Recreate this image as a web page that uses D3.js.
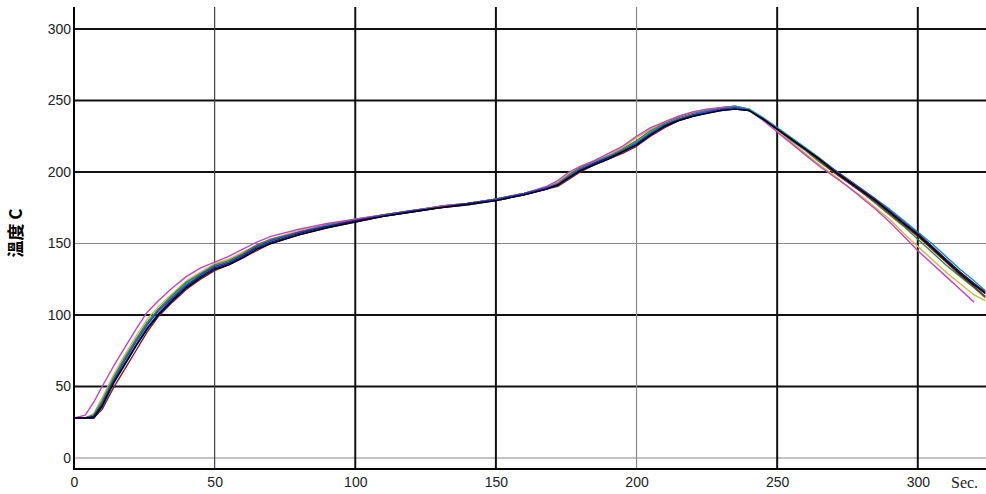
<!DOCTYPE html>
<html>
<head>
<meta charset="utf-8">
<script src="https://cdn.jsdelivr.net/npm/d3@7"></script>
<style>
html,body{margin:0;padding:0;background:#fff;}
svg{display:block;}
</style>
</head>
<body>
<svg id="chart" width="986" height="494"></svg>
<script>
// ---- data ----
const times = [0,4,7,10,14,18,22,26,30,35,40,45,50,55,60,65,70,80,90,100,110,120,130,140,150,160,168,172,176,180,185,190,195,200,205,210,215,220,225,230,235,240,245,250,255,260,265,270,275,280,285,290,295,300,305,310,315,320,324];

const seriesBlack   = [28,28,28,36,52,65,78,90,100,110,119,126,132,135,140,146,150,156,161,165,169,172,175,177,180,184,188,191,196,201,205,209,214,219,226,232,236,239,241,243,244,243,237,230,223,216,209,201,194,187,180,172,164,156,147,138,129,121,115];
const seriesDarkRed = [28,28,28,34,49,62,75,88,99,109,118,125,131,135,140,145,150,156,161,165,169,172,175,177,180,184,188,190,195,200,205,209,213,218,225,231,236,239,242,244,245,243,237,230,223,216,208,200,193,186,179,171,163,155,146,137,128,120,113];
const seriesNavy    = [28,28,29,37,53,66,79,91,101,111,120,127,133,136,141,147,151,157,162,166,169,172,175,178,180,184,188,191,196,201,206,210,214,219,226,232,236,239,241,243,244,243,237,230,223,216,209,201,194,187,180,172,164,157,148,139,130,122,116];
const seriesBlue    = [28,28,29,38,54,68,81,93,103,112,121,128,134,137,142,148,152,158,162,166,170,173,175,178,181,185,189,191,197,202,206,210,215,220,227,233,237,240,242,244,245,243,237,230,223,216,209,202,195,188,181,173,165,157,148,139,130,122,115];
const seriesCyan    = [28,28,30,39,55,69,82,94,104,113,122,129,134,137,142,148,152,158,163,166,170,173,176,178,181,185,189,192,197,202,207,211,215,221,228,233,237,240,243,245,246,244,238,231,224,217,210,202,195,188,181,174,166,158,150,141,132,124,117];
const seriesGreen   = [28,28,30,40,56,70,83,95,104,114,123,129,135,138,143,149,153,158,163,167,170,173,176,178,181,185,189,192,198,203,207,211,216,222,229,234,238,241,243,245,246,244,237,230,222,215,207,200,193,186,178,170,162,153,144,135,127,119,112];
const seriesYellow  = [28,28,31,42,58,72,85,97,106,115,124,130,136,139,144,149,153,159,163,167,170,173,176,178,181,185,189,193,199,204,208,212,217,224,230,235,239,242,244,245,246,244,237,229,221,213,205,198,190,183,175,167,157,148,139,130,122,114,110];
const seriesMagenta = [28,30,39,50,64,77,90,102,110,119,127,133,137,141,146,151,155,160,164,167,170,173,176,178,181,185,190,194,200,204,208,213,218,225,231,235,239,242,244,245,245,243,236,228,220,212,204,197,190,182,174,165,155,145,136,127,118,109,null];

const seriesList = [seriesYellow, seriesGreen, seriesDarkRed, seriesCyan, seriesMagenta, seriesBlue, seriesNavy, seriesBlack];
const seriesColors = ["#c8c030","#2f8a46","#8a1a1a","#1c8fb0","#d23cc6","#2a3ed0","#1c1c7a","#000000"];

const xTicks = [0,50,100,150,200,250,300];
const yTicks = [0,50,100,150,200,250,300];
const xHeavy = [100,150,250,300];
const yHeavy = [50,100,200,250,300];
const xUnit = "Sec.";
const yLabel = "溫度 C";

// ---- layout ----
const svg = d3.select("#chart");
const pL = 74, pT = 7, pR = 986, pB = 469;
const x = d3.scaleLinear().domain([0,300]).range([74, 917.8]);
const y = d3.scaleLinear().domain([0,300]).range([458, 29]);

svg.append("defs").append("clipPath").attr("id","clip")
  .append("rect").attr("x",pL).attr("y",pT).attr("width",pR-pL).attr("height",pB-pT);

// grid
const grid = svg.append("g");
yTicks.forEach(v => {
  const heavy = yHeavy.includes(v);
  grid.append("line").attr("x1",pL).attr("x2",pR).attr("y1",y(v)).attr("y2",y(v))
    .attr("stroke", heavy ? "#111" : "#8a8a8a").attr("stroke-width", heavy ? 2 : 1.2);
});
xTicks.filter(v => v>0).forEach(v => {
  const heavy = xHeavy.includes(v);
  grid.append("line").attr("x1",x(v)).attr("x2",x(v)).attr("y1",pT).attr("y2",pB)
    .attr("stroke", heavy ? "#111" : (v===50 ? "#444" : "#8a8a8a")).attr("stroke-width", heavy ? 2 : 1.2);
});

// axes using d3 axis generators for labels
const xAxis = d3.axisBottom(x).tickValues(xTicks).tickSize(0).tickPadding(0).tickFormat(d3.format("d"));
const gx = svg.append("g").attr("transform",`translate(0,${pB})`).call(xAxis);
gx.select(".domain").remove();
gx.selectAll("text").attr("dy",null).attr("y",18).attr("font-family","Liberation Sans, Arial, sans-serif")
  .attr("font-size",14).attr("fill","#222");

const yAxis = d3.axisLeft(y).tickValues(yTicks).tickSize(0).tickPadding(3).tickFormat(d3.format("d"));
const gy = svg.append("g").attr("transform",`translate(${pL},0)`).call(yAxis);
gy.select(".domain").remove();
gy.selectAll("text").attr("font-family","Liberation Sans, Arial, sans-serif")
  .attr("font-size",14).attr("fill","#222");

// axis lines
svg.append("line").attr("x1",pL).attr("x2",pL).attr("y1",pT).attr("y2",pB+1)
  .attr("stroke","#000").attr("stroke-width",2);
svg.append("line").attr("x1",pL-1).attr("x2",pR).attr("y1",pB).attr("y2",pB)
  .attr("stroke","#000").attr("stroke-width",2);

// series
const line = d3.line()
  .defined(d => d[1] !== null)
  .x(d => x(d[0])).y(d => y(d[1]));
const lines = svg.append("g").attr("clip-path","url(#clip)");
seriesList.forEach((s,i) => {
  lines.append("path").datum(times.map((t,j) => [t, s[j]]))
    .attr("d", line).attr("fill","none")
    .attr("stroke", seriesColors[i]).attr("stroke-width",1.4)
    .attr("stroke-linejoin","round");
});

// unit labels
svg.append("text").attr("x",951).attr("y",488).attr("font-family","Liberation Serif, Times New Roman, serif")
  .attr("font-size",16).attr("fill","#222").text(xUnit);
svg.append("text").attr("transform","translate(22,233) rotate(-90)").attr("text-anchor","middle")
  .attr("font-family","Noto Sans CJK TC, sans-serif").attr("font-weight","bold")
  .attr("font-size",17).attr("fill","#000").text(yLabel);
</script>
</body>
</html>
